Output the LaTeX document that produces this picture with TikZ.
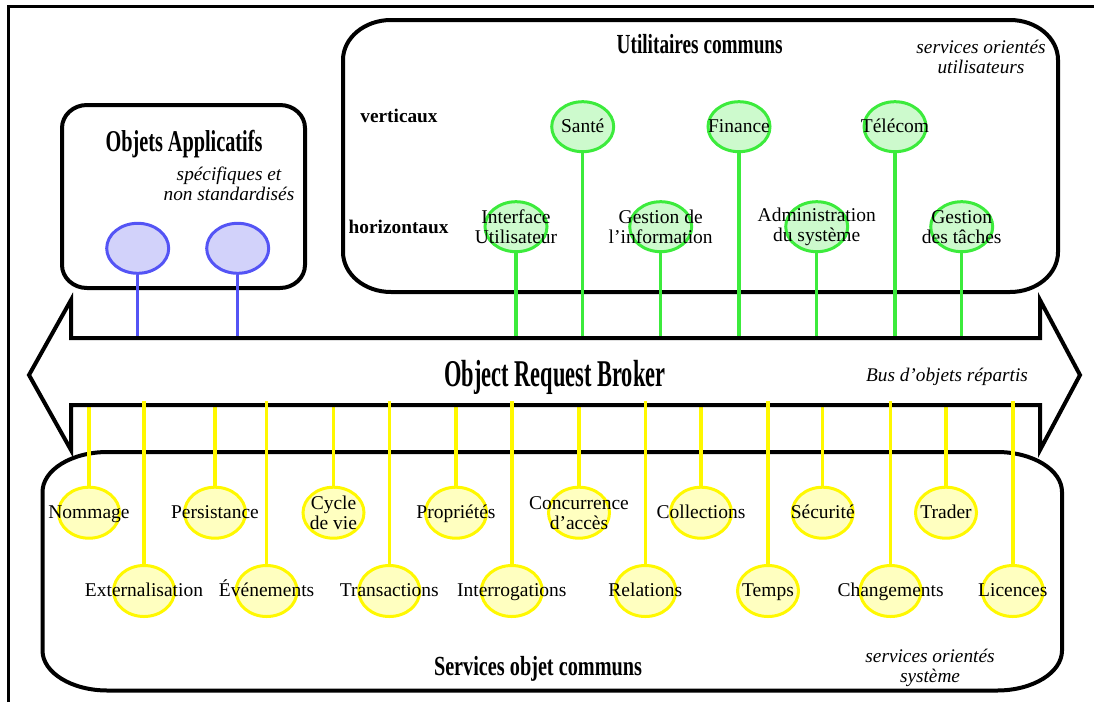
\documentclass[tikz,border=0pt]{standalone}
\usepackage{fontspec}
\setmainfont{Liberation Serif}
\usepackage{graphicx}
\usetikzlibrary{shapes.geometric}

\definecolor{bluestroke}{RGB}{84,84,245}
\definecolor{bluefill}{RGB}{210,210,250}
\definecolor{greenstroke}{RGB}{60,235,60}
\definecolor{greenfill}{RGB}{205,250,205}
\definecolor{yellowstroke}{RGB}{255,248,0}
\definecolor{yellowfill}{RGB}{255,255,192}

% condensed bold title set to a given width
\newcommand\condtitle[3]{\resizebox{#1pt}{\height}{\fontsize{#2}{#2}\selectfont\bfseries #3}}

% rectangle with elliptical corners: x1 y1 x2 y2 rx ry
\newcommand\cornerbox[6]{%
  \draw[boxline] ({#1+#5},#2) -- ({#3-#5},#2)
    arc[start angle=270,end angle=360,x radius=#5,y radius=#6]
    -- (#3,{#4-#6})
    arc[start angle=0,end angle=90,x radius=#5,y radius=#6]
    -- ({#1+#5},#4)
    arc[start angle=90,end angle=180,x radius=#5,y radius=#6]
    -- (#1,{#2+#6})
    arc[start angle=180,end angle=270,x radius=#5,y radius=#6]
    -- cycle;}

\tikzset{
  frame/.style={line width=3pt},
  boxline/.style={line width=4pt, line join=round},
  orbline/.style={line width=4pt, line join=miter},
  ball/.style={ellipse, line width=3pt, inner sep=0pt, minimum width=62pt, minimum height=50pt},
  blueball/.style={ball, draw=bluestroke, fill=bluefill},
  greenball/.style={ball, draw=greenstroke, fill=greenfill},
  yellowball/.style={ball, draw=yellowstroke, fill=yellowfill, minimum width=61pt, minimum height=51pt},
  bluestem/.style={draw=bluestroke, line width=3.5pt},
  greenstem/.style={draw=greenstroke, line width=3.5pt},
  yellowstem/.style={draw=yellowstroke, line width=3.5pt},
  lbl/.style={font=\fontsize{19.5}{20}\selectfont, align=center, inner sep=0pt},
  lbl1/.style={lbl, anchor=base},
  note/.style={font=\fontsize{19.3}{20}\selectfont\itshape, align=center, inner sep=0pt},
  side/.style={font=\fontsize{19.3}{20}\selectfont\bfseries, inner sep=0pt, anchor=base},
  titlenode/.style={inner sep=0pt, anchor=base}
}

\begin{document}
\begin{tikzpicture}[x=1pt,y=-1pt]
\useasboundingbox (0,0) rectangle (1094,702);

% outer frame
\draw[frame] (8.3,702) -- (8.3,6.7) -- (1094,6.7);

% the three groups
\cornerbox{62}{105}{305}{288}{25}{23}
\cornerbox{343}{20}{1058}{292}{48}{40}
\cornerbox{42.5}{452}{1062}{690.5}{65}{40}

% attachment levels on the bus
\coordinate (orbT) at (0,338);
\coordinate (orbB) at (0,405);
\coordinate (orbBhi) at (0,401);

% application objects
\node[blueball] (app1) at (137.7,248.3) {};
\node[blueball] (app2) at (237.7,248.3) {};

% common facilities
\node[greenball] (sante) at (582.7,126.7) {};
\node[greenball] (finance) at (739,126.7) {};
\node[greenball] (telecom) at (895,126.7) {};
\node[greenball] (ihm) at (516,226.7) {};
\node[greenball] (info) at (660.7,226.7) {};
\node[greenball] (admin) at (816.7,226.7) {};
\node[greenball] (taches) at (961.7,226.7) {};

% object services, first row
\node[yellowball] (nommage) at (89,512.7) {};
\node[yellowball] (persist) at (215,512.7) {};
\node[yellowball] (cycle) at (333.5,512.7) {};
\node[yellowball] (props) at (456,512.7) {};
\node[yellowball] (concur) at (579,512.7) {};
\node[yellowball] (collec) at (701,512.7) {};
\node[yellowball] (secu) at (822.7,512.7) {};
\node[yellowball] (trader) at (946,512.7) {};
% object services, second row
\node[yellowball] (extern) at (144,591) {};
\node[yellowball] (events) at (266.6,591) {};
\node[yellowball] (trans) at (389.3,591) {};
\node[yellowball] (query) at (511.8,591) {};
\node[yellowball] (rel) at (645.3,591) {};
\node[yellowball] (temps) at (768,591) {};
\node[yellowball] (chg) at (890.6,591) {};
\node[yellowball] (lic) at (1012.8,591) {};

% stems towards the bus
\foreach \n in {app1,app2} \draw[bluestem] (\n.south) -- (\n.south |- orbT);
\foreach \n in {sante,finance,telecom,ihm,info,admin,taches}
  \draw[greenstem] (\n.south) -- (\n.south |- orbT);
\foreach \n in {nommage,persist,cycle,props,concur,collec,secu,trader}
  \draw[yellowstem] (\n.north) -- (\n.north |- orbB);

% the object request broker
\draw[orbline] (71,338) -- (1040,338) -- (1040,300) -- (1080,375) -- (1040,450)
  -- (1040,405) -- (71,405) -- (71,450) -- (29,375) -- (71,300) -- cycle;

\foreach \n in {extern,events,trans,query,rel,temps,chg,lic}
  \draw[yellowstem] (\n.north) -- (\n.north |- orbBhi);

% titles
\node[titlenode] (tApp) at (184,151.7) {\condtitle{157}{30.2}{Objets Applicatifs}};
\node[titlenode] (tUtil) at (699.7,53.3) {\condtitle{166}{27.6}{Utilitaires communs}};
\node[titlenode] (tOrb) at (555,386.7) {\condtitle{221}{37.8}{Object Request Broker}};
\node[titlenode] (tServ) at (538,675) {\condtitle{208}{27.6}{Services objet communs}};

% side notes
\node[note] (nApp) at (229,184) {spécifiques et\\non standardisés};
\node[note] (nUtil) at (981,57) {services orientés\\utilisateurs};
\node[note, anchor=base] (nOrb) at (947,381.7) {Bus d’objets répartis};
\node[note] (nServ) at (930,668) {services orientés\\système};
\node[side] (vert) at (399,122.7) {verticaux};
\node[side] (horiz) at (398.6,233.3) {horizontaux};

% labels of the facilities
\node[lbl1] (santeT) at ([yshift=-5.5pt]sante.center) {Santé};
\node[lbl1] (financeT) at ([yshift=-5.5pt]finance.center) {Finance};
\node[lbl1] (telecomT) at ([yshift=-5.5pt]telecom.center) {Télécom};
\node[lbl] (ihmT) at (ihm) {Interface\\Utilisateur};
\node[lbl] (infoT) at (info) {Gestion de\\l’information};
\node[lbl] (adminT) at (admin) {Administration\\du système};
\node[lbl] (tachesT) at (taches) {Gestion\\des tâches};

% labels of the services
\node[lbl1] (nommageT) at ([yshift=-5.5pt]nommage.center) {Nommage};
\node[lbl1] (persistT) at ([yshift=-5.5pt]persist.center) {Persistance};
\node[lbl] (cycleT) at (cycle) {Cycle\\de vie};
\node[lbl1] (propsT) at ([yshift=-5.5pt]props.center) {Propriétés};
\node[lbl] (concurT) at (concur) {Concurrence\\d’accès};
\node[lbl1] (collecT) at ([yshift=-5.5pt]collec.center) {Collections};
\node[lbl1] (secuT) at ([yshift=-5.5pt]secu.center) {Sécurité};
\node[lbl1] (traderT) at ([yshift=-5.5pt]trader.center) {Trader};
\node[lbl1] (externT) at ([yshift=-5.5pt]extern.center) {Externalisation};
\node[lbl1] (eventsT) at ([yshift=-5.5pt]events.center) {Événements};
\node[lbl1] (transT) at ([yshift=-5.5pt]trans.center) {Transactions};
\node[lbl1] (queryT) at ([yshift=-5.5pt]query.center) {Interrogations};
\node[lbl1] (relT) at ([yshift=-5.5pt]rel.center) {Relations};
\node[lbl1] (tempsT) at ([yshift=-5.5pt]temps.center) {Temps};
\node[lbl1] (chgT) at ([yshift=-5.5pt]chg.center) {Changements};
\node[lbl1] (licT) at ([yshift=-5.5pt]lic.center) {Licences};
\end{tikzpicture}
\end{document}
